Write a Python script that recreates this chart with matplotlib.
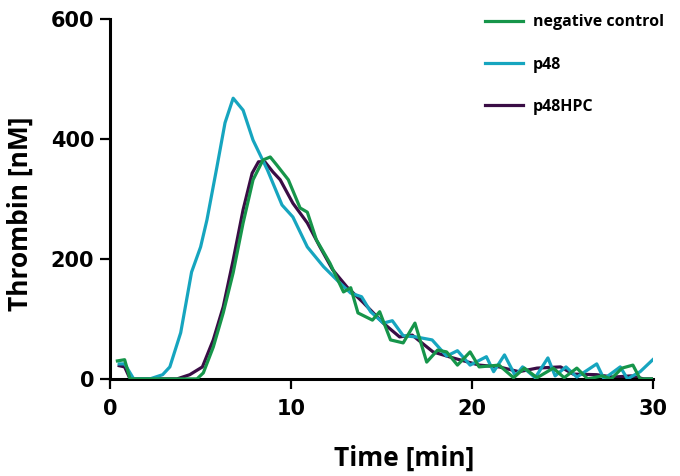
import matplotlib
matplotlib.use("Agg")
import matplotlib.pyplot as plt

# thrombin generation curves
t_neg = [0.4, 0.8, 1.1, 2, 3, 4, 4.8, 5.15, 5.7, 6.25, 6.8, 7.35, 7.9, 8.45, 8.85, 9.2,
         9.85, 10.5, 10.9, 11.4, 12.15, 12.9, 13.3, 13.7, 14.5, 14.9, 15.5, 16.2, 16.85,
         17.5, 18.1, 18.6, 19.2, 19.9, 20.4, 21.5, 22.3, 22.9, 23.6, 24.5, 25.1, 25.8,
         26.4, 27.2, 27.7, 28.3, 28.9, 29.3, 30]
v_neg = [30, 32, 0, 0, 0, 0, 0, 10, 53, 110, 177, 260, 332, 365, 370, 357,
         332, 285, 278, 232, 193, 145, 152, 110, 98, 112, 65, 60, 93,
         28, 48, 45, 23, 45, 20, 23, 2, 18, 2, 18, 2, 18,
         0, 5, 0, 18, 23, 0, 0]

t_p48 = [0.5, 0.8, 1.3, 2.2, 2.9, 3.3, 3.9, 4.5, 5.0, 5.35, 5.9, 6.35, 6.8, 7.35, 7.9,
         8.7, 9.5, 10.1, 10.9, 11.8, 12.7, 13.3, 13.9, 14.4, 15.1, 15.6, 16.2, 16.9,
         17.8, 18.6, 19.2, 19.9, 20.8, 21.2, 21.8, 22.4, 22.8, 23.5, 24.2, 24.6, 25.2,
         25.8, 26.9, 27.3, 28.2, 28.6, 29.3, 30]
v_p48 = [25, 25, 0, 0, 7, 20, 77, 178, 220, 265, 353, 427, 468, 448, 398,
         348, 290, 270, 220, 187, 160, 143, 137, 112, 93, 97, 72, 70,
         65, 38, 47, 23, 37, 12, 40, 5, 20, 2, 35, 5, 20,
         3, 25, 0, 20, 0, 12, 32]

t_hpc = [0.5, 0.8, 1.1, 2, 3, 3.7, 4.4, 5.1, 5.7, 6.25, 6.8, 7.35, 7.85, 8.2, 8.55, 9.0,
         9.4, 10.1, 10.9, 11.6, 12.3, 13.1, 14.0, 15.1, 16.0, 16.7, 17.85, 18.95, 20.4,
         21.5, 22.6, 23.6, 24.9, 25.6, 26.9, 27.8, 28.8, 29.5, 30]
v_hpc = [22, 20, 0, 0, 0, 0, 7, 20, 65, 120, 198, 282, 343, 362, 362, 345,
         332, 293, 260, 220, 182, 153, 127, 93, 70, 73, 45, 35, 23,
         20, 12, 18, 20, 8, 7, 3, 5, 0, 0]

green = "#16954a"
cyan = "#16a5bf"
purple = "#3a0d45"

fig = plt.figure(figsize=(6.8, 4.76), dpi=100)
ax = fig.add_axes([0.162, 0.204, 0.798, 0.756])

lw = 2.3
ax.plot(t_hpc, v_hpc, color=purple, lw=lw, label="p48HPC", zorder=2)
ax.plot(t_p48, v_p48, color=cyan, lw=lw, label="p48", zorder=3)
ax.plot(t_neg, v_neg, color=green, lw=lw, label="negative control", zorder=4)

ax.set_xlim(0, 30)
ax.set_ylim(0, 600)
ax.set_xticks([0, 10, 20, 30])
ax.set_yticks([0, 200, 400, 600])

for s in ["top", "right"]:
    ax.spines[s].set_visible(False)
for s in ["left", "bottom"]:
    ax.spines[s].set_linewidth(2.2)
    ax.spines[s].set_color("black")

ax.tick_params(direction="out", length=7.5, width=1.6)
ax.tick_params(axis="x", pad=7)
ax.tick_params(axis="y", pad=4)
for lab in ax.get_xticklabels() + ax.get_yticklabels():
    lab.set_fontfamily("DejaVu Sans")
    lab.set_fontweight("bold")
    lab.set_fontsize(15)

ax.set_xlabel("Time [min]", fontfamily="Open Sans", fontweight="bold", fontsize=19)
ax.set_ylabel("Thrombin [nM]", fontfamily="Open Sans", fontweight="bold", fontsize=19)
ax.xaxis.label.set_va("center")
ax.yaxis.label.set_va("center")
ax.xaxis.set_label_coords(0.541, -0.22)
ax.yaxis.set_label_coords(-0.166, 0.458)

# legend: order as in reference
h, l = ax.get_legend_handles_labels()
order = [2, 1, 0]
leg = ax.legend([h[i] for i in order], [l[i] for i in order],
                loc="upper left", bbox_to_anchor=(0.713, 0.970),
                bbox_transform=fig.transFigure, frameon=False,
                borderpad=0, borderaxespad=0, handlelength=2.4,
                handletextpad=0.6, labelspacing=1.65,
                prop={"family": "Open Sans", "weight": "bold", "size": 11.5})

fig.savefig("out.png", dpi=100)
